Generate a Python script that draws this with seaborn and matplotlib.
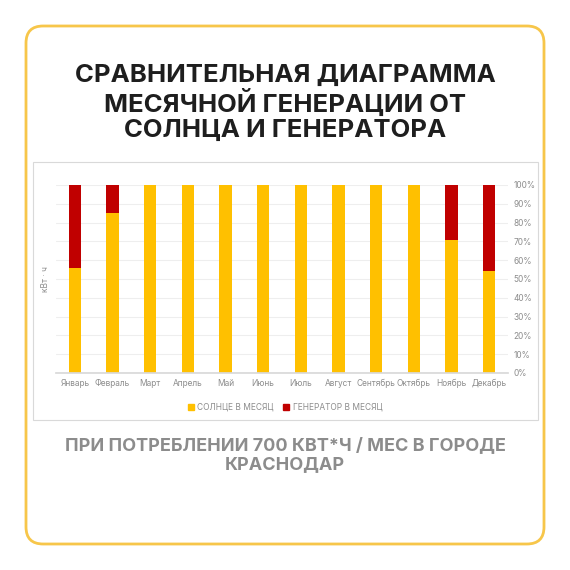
import numpy as np
import pandas as pd
import seaborn as sns
import matplotlib.pyplot as plt
from matplotlib.patches import FancyBboxPatch, Rectangle

months = ["Январь", "Февраль", "Март", "Апрель", "Май", "Июнь",
          "Июль", "Август", "Сентябрь", "Октябрь", "Ноябрь", "Декабрь"]
solar_pct = [56, 85, 100, 100, 100, 100, 100, 100, 100, 100, 71, 54]
generator_pct = [44, 15, 0, 0, 0, 0, 0, 0, 0, 0, 29, 46]

YELLOW = "#FFC000"
RED = "#C00000"

sns.set_theme(style="white")
plt.rcParams["font.family"] = ["Inter", "DejaVu Sans"]

df = pd.DataFrame({"month": months, "solar": solar_pct, "gen": generator_pct})
df["total"] = df["solar"] + df["gen"]

fig = plt.figure(figsize=(5.7, 5.7), dpi=100)
W = H = 570.0

# outer rounded frame
fig.patches.append(FancyBboxPatch((26 / W, 26 / H), 518 / W, 518 / H,
                                  boxstyle="round,pad=0,rounding_size=0.03",
                                  transform=fig.transFigure, fill=False,
                                  edgecolor="#F7C64A", linewidth=2))
# chart frame
fig.patches.append(Rectangle((33 / W, 1 - 420 / H), 505 / W, 258 / H,
                             transform=fig.transFigure, fill=False,
                             edgecolor="#D9D9D9", linewidth=0.8))

fig.text(0.5, 1 - 103 / H,
         "СРАВНИТЕЛЬНАЯ ДИАГРАММА\nМЕСЯЧНОЙ ГЕНЕРАЦИИ ОТ\nСОЛНЦА И ГЕНЕРАТОРА",
         ha="center", va="center", fontsize=18.5, fontweight="bold",
         color="#1E1E1E", linespacing=1.1)
fig.text(0.5, 1 - 455 / H,
         "ПРИ ПОТРЕБЛЕНИИ 700 КВТ*Ч / МЕС В ГОРОДЕ\nКРАСНОДАР",
         ha="center", va="center", fontsize=13, fontweight="bold",
         color="#8C8C8C", linespacing=1.2)

ax = fig.add_axes([56 / W, 1 - 373 / H, 452 / W, 188 / H])
sns.barplot(data=df, x="month", y="total", color=RED, width=0.32,
            saturation=1, linewidth=0, ax=ax)
sns.barplot(data=df, x="month", y="solar", color=YELLOW, width=0.32,
            saturation=1, linewidth=0, ax=ax)

ax.set_ylim(0, 100)
ax.yaxis.tick_right()
ax.set_yticks(range(0, 101, 10))
ax.set_yticklabels([f"{v}%" for v in range(0, 101, 10)])
ax.yaxis.grid(True, color="#EEEEEE", linewidth=0.8)
ax.set_axisbelow(True)
ax.tick_params(axis="both", labelsize=6, colors="#8C8C8C", length=0, pad=4)
ax.set_xlabel("")
ax.set_ylabel("кВт · ч", fontsize=6, color="#8C8C8C")
ax.yaxis.set_label_position("left")
for s in ["top", "right", "left"]:
    ax.spines[s].set_visible(False)
ax.spines["bottom"].set_color("#D9D9D9")

fig.legend(handles=[Rectangle((0, 0), 1, 1, color=YELLOW),
                    Rectangle((0, 0), 1, 1, color=RED)],
           labels=["СОЛНЦЕ В МЕСЯЦ", "ГЕНЕРАТОР В МЕСЯЦ"],
           loc="center", bbox_to_anchor=(0.5, 1 - 407 / H), ncol=2,
           frameon=False, fontsize=6, handlelength=0.7, handleheight=0.7,
           labelcolor="#8C8C8C", columnspacing=1.2, handletextpad=0.4)

fig.savefig("out.png", dpi=100)
